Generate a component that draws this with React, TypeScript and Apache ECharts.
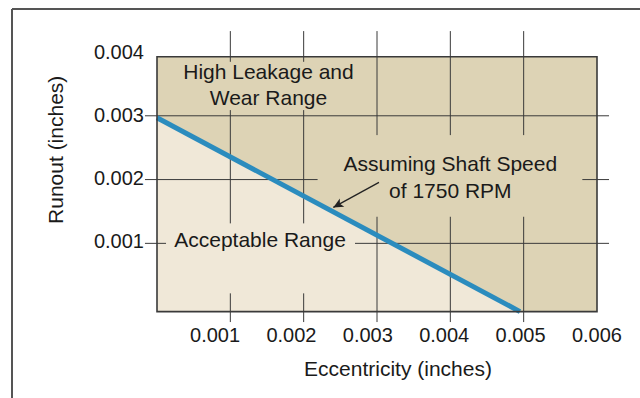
import React, { useEffect, useRef } from "react";
import * as echarts from "echarts";

// ---- data (inches) ----
const eccentricityTicks = [0.001, 0.002, 0.003, 0.004, 0.005, 0.006];
const runoutTicks = [0.001, 0.002, 0.003, 0.004];
const boundaryEccentricity = [0, 0.00495];
const boundaryRunout = [0.00297, -0.00007];

const X_MIN = 0;
const X_MAX = 0.006;
const Y_MIN = -0.00007;
const Y_MAX = 0.004;
const PLOT_TOP = 0.003925;

// the printed tick labels are spaced slightly differently from the grid
const X_LABEL_MIN = 0.00024;
const X_LABEL_MAX = 0.006001;
const Y_LABEL_MIN = -0.000125;
const Y_LABEL_MAX = 0.004005;

// broken grid lines: [x, yFrom, yTo]
const verticalGridPieces = [
  [0.001, 0.004328, 0.003846], [0.001, 0.003089, 0.001313], [0.001, 0.000216, -0.000234],
  [0.002, 0.004328, 0.003846], [0.002, 0.003089, 0.001313], [0.002, 0.000216, -0.000234],
  [0.003, 0.004328, 0.002697], [0.003, 0.001417, -0.000234],
  [0.004, 0.004328, 0.002697], [0.004, 0.001417, -0.000234],
  [0.005, 0.004328, 0.002697], [0.005, 0.001417, -0.000234],
];
// [y, xFrom, xTo]
const horizontalGridPieces = [
  [0.003, -0.000164, 0.006164],
  [0.002, -0.000164, 0.00219], [0.002, 0.0058, 0.006164],
  [0.001, -0.000164, 0.000123], [0.001, 0.0027, 0.006164],
];

const annotationTexts = ["High Leakage and\nWear Range", "Assuming Shaft Speed\nof 1750 RPM", "Acceptable Range"];
const annotationX = [0.00152, 0.004, 0.001405];
const annotationY = [0.00349, 0.002036, 0.001056];
const annotationLineHeights = [26, 27, 26];
const arrowFrom = [0.003027, 0.001956];
const arrowTo = [0.002404, 0.001564];

const FONT = "'Liberation Sans', Arial, Helvetica, sans-serif";
const TEXT = "#1a1a1a";
const DARK = "#ddd3b5";
const LIGHT = "#f0e8d8";
const BLUE = "#2b8cbe";
const GRID = "#3a3a3a";

const hiddenAxis = {
  axisLine: { show: false },
  axisTick: { show: false },
  splitLine: { show: false },
};

export default function App() {
  const ref = useRef<HTMLDivElement>(null);
  useEffect(() => {
    document.body.style.margin = "0";
    if (!ref.current) return;
    const chart = echarts.init(ref.current, null, { renderer: "svg" });

    const gridSegments = [
      ...verticalGridPieces.map(([x, a, b]) => [x, a, x, b]),
      ...horizontalGridPieces.map(([y, a, b]) => [a, y, b, y]),
    ];

    chart.setOption({
      animation: false,
      backgroundColor: "#ffffff",
      grid: { left: 157, right: 43, top: 52, bottom: 86.4, containLabel: false },
      xAxis: [
        {
          type: "value",
          min: X_MIN,
          max: X_MAX,
          ...hiddenAxis,
          axisLabel: { show: false },
          name: "Eccentricity (inches)",
          nameLocation: "middle",
          nameGap: 46,
          nameTextStyle: { fontSize: 21, fontFamily: FONT, color: TEXT, padding: [0, 0, 0, 42] },
        },
        {
          type: "value",
          position: "bottom",
          min: X_LABEL_MIN,
          max: X_LABEL_MAX,
          ...hiddenAxis,
          axisLabel: {
            customValues: eccentricityTicks,
            formatter: (v: number) => v.toFixed(3),
            fontSize: 20,
            fontFamily: FONT,
            color: TEXT,
            margin: 13,
          },
        },
      ],
      yAxis: [
        {
          type: "value",
          min: Y_MIN,
          max: Y_MAX,
          ...hiddenAxis,
          axisLabel: { show: false },
          name: "Runout (inches)",
          nameLocation: "middle",
          nameGap: 91,
          nameTextStyle: { fontSize: 21, fontFamily: FONT, color: TEXT, padding: [0, 0, 0, 64] },
        },
        {
          type: "value",
          position: "left",
          min: Y_LABEL_MIN,
          max: Y_LABEL_MAX,
          ...hiddenAxis,
          axisLabel: {
            customValues: runoutTicks,
            formatter: (v: number) => v.toFixed(3),
            fontSize: 20,
            fontFamily: FONT,
            color: TEXT,
            margin: 13,
          },
        },
      ],
      graphic: [
        { type: "line", shape: { x1: 12, y1: 9, x2: 640, y2: 9 }, style: { stroke: "#555", lineWidth: 2 } },
        { type: "line", shape: { x1: 12, y1: 9, x2: 12, y2: 398 }, style: { stroke: "#555", lineWidth: 2 } },
      ],
      series: [
        {
          type: "custom",
          z: 1,
          silent: true,
          data: [[X_MIN, Y_MIN, X_MAX, PLOT_TOP]],
          renderItem: (_p: any, api: any) => {
            const a = api.coord([api.value(0), api.value(1)]);
            const b = api.coord([api.value(2), api.value(3)]);
            return {
              type: "rect",
              shape: { x: a[0], y: b[1], width: b[0] - a[0], height: a[1] - b[1] },
              style: { fill: DARK, stroke: "none" },
            };
          },
        },
        {
          type: "line",
          z: 2,
          silent: true,
          symbol: "none",
          data: boundaryEccentricity.map((x, i) => [x, boundaryRunout[i]]),
          lineStyle: { width: 0 },
          areaStyle: { color: LIGHT, opacity: 1, origin: "start" },
        },
        {
          type: "custom",
          z: 3,
          silent: true,
          data: gridSegments,
          renderItem: (_p: any, api: any) => {
            const a = api.coord([api.value(0), api.value(1)]);
            const b = api.coord([api.value(2), api.value(3)]);
            return {
              type: "line",
              shape: { x1: a[0], y1: a[1], x2: b[0], y2: b[1] },
              style: { stroke: GRID, lineWidth: 1 },
            };
          },
        },
        {
          type: "line",
          z: 4,
          silent: true,
          symbol: "none",
          data: boundaryEccentricity.map((x, i) => [x, boundaryRunout[i]]),
          lineStyle: { width: 5, color: BLUE, cap: "butt" },
          markLine: {
            silent: true,
            symbol: ["none", "arrow"],
            symbolSize: [7, 10],
            label: { show: false },
            lineStyle: { color: "#222", width: 1.3, type: "solid" },
            data: [[{ coord: arrowFrom }, { coord: arrowTo }]],
          },
        },
        {
          type: "custom",
          z: 5,
          silent: true,
          data: [[X_MIN, Y_MIN, X_MAX, PLOT_TOP]],
          renderItem: (_p: any, api: any) => {
            const a = api.coord([api.value(0), api.value(1)]);
            const b = api.coord([api.value(2), api.value(3)]);
            return {
              type: "rect",
              shape: { x: a[0], y: b[1], width: b[0] - a[0], height: a[1] - b[1] },
              style: { fill: "none", stroke: "#3a3a3a", lineWidth: 1.6 },
            };
          },
        },
        {
          type: "custom",
          z: 6,
          silent: true,
          data: annotationX.map((x, i) => [x, annotationY[i]]),
          renderItem: (p: any, api: any) => {
            const c = api.coord([api.value(0), api.value(1)]);
            const i = p.dataIndex;
            return {
              type: "text",
              x: c[0],
              y: c[1],
              style: {
                text: annotationTexts[i],
                fill: TEXT,
                fontSize: 21,
                fontFamily: FONT,
                align: "center",
                verticalAlign: "middle",
                lineHeight: annotationLineHeights[i],
              },
            };
          },
        },
      ],
    });
    return () => chart.dispose();
  }, []);
  return <div ref={ref} style={{ width: 640, height: 398 }} />;
}
